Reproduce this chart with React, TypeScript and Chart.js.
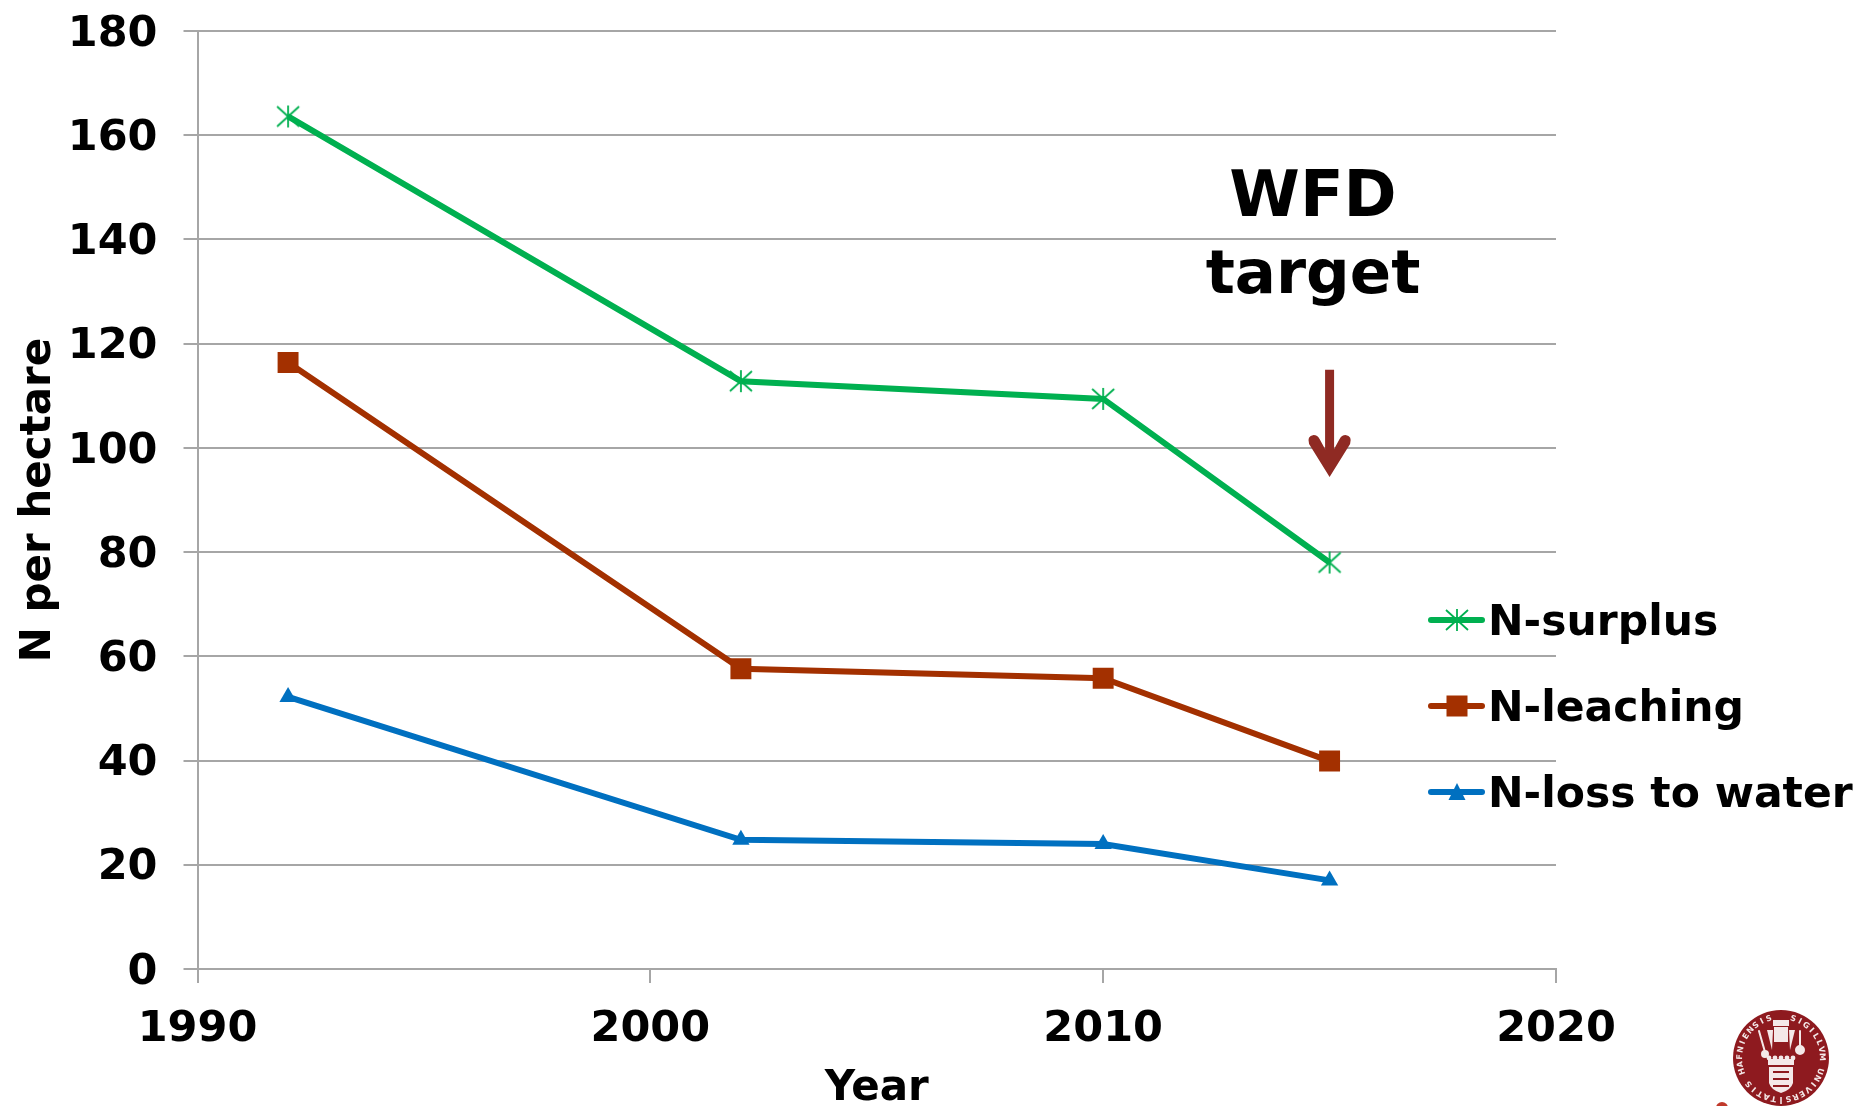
import React, { useEffect, useRef } from "react";
import { Chart, registerables } from "chart.js";

Chart.register(...registerables);

const years = [1992, 2002, 2010, 2015];
const nSurplus = [163.6, 112.8, 109.4, 78];
const nLeaching = [116.4, 57.6, 55.8, 39.9];
const nLoss = [52.2, 24.8, 24, 17];
const seriesLabels = ["N-surplus", "N-leaching", "N-loss to water"];
const seriesColors = ["#00B050", "#A33000", "#0070C0"];
const annotationYear = 2015;
const annotationLines = ["WFD", "target"];
const arrowFrom = 115;
const arrowTo = 94.4;
const sealText = "SIGILLVM UNIVERSITATIS HAFNIENSIS";

const FONT = '"DejaVu Sans"';
const GRID = "#A6A6A6";

function starMarker(color: string) {
  const c = document.createElement("canvas");
  c.width = 26;
  c.height = 26;
  const g = c.getContext("2d")!;
  g.strokeStyle = color;
  g.lineWidth = 1.8;
  g.beginPath();
  g.moveTo(13, 2);
  g.lineTo(13, 24);
  g.moveTo(2, 3);
  g.lineTo(24, 23);
  g.moveTo(24, 3);
  g.lineTo(2, 23);
  g.stroke();
  return c;
}

function drawSeal(ctx: CanvasRenderingContext2D, cx: number, cy: number) {
  const red = "#8E1A1F";
  const pale = "#F4E8E8";
  ctx.fillStyle = red;
  ctx.beginPath();
  ctx.arc(cx, cy, 48, 0, Math.PI * 2);
  ctx.fill();
  ctx.fillStyle = pale;
  ctx.font = `bold 8px ${FONT}`;
  ctx.textAlign = "center";
  ctx.textBaseline = "middle";
  const n = sealText.length;
  for (let i = 0; i < n; i++) {
    const a = -Math.PI / 2 + 0.3 + (i * (Math.PI * 2 - 0.6)) / (n - 1);
    ctx.save();
    ctx.translate(cx + Math.cos(a) * 41, cy + Math.sin(a) * 41);
    ctx.rotate(a + Math.PI / 2);
    ctx.fillText(sealText[i], 0, 0);
    ctx.restore();
  }
  ctx.fillStyle = pale;
  ctx.fillRect(cx - 8, cy - 38, 16, 6);
  ctx.fillRect(cx - 7, cy - 31, 14, 15);
  ctx.beginPath();
  ctx.moveTo(cx - 8, cy - 28);
  ctx.lineTo(cx - 14, cy - 28);
  ctx.lineTo(cx - 9, cy - 8);
  ctx.closePath();
  ctx.moveTo(cx + 8, cy - 28);
  ctx.lineTo(cx + 14, cy - 28);
  ctx.lineTo(cx + 9, cy - 8);
  ctx.closePath();
  ctx.fill();
  ctx.strokeStyle = pale;
  ctx.lineWidth = 2;
  ctx.beginPath();
  ctx.moveTo(cx - 22, cy - 27);
  ctx.lineTo(cx - 16, cy - 6);
  ctx.moveTo(cx + 19, cy - 27);
  ctx.lineTo(cx + 19, cy - 12);
  ctx.stroke();
  ctx.beginPath();
  ctx.arc(cx - 16, cy - 4, 4, 0, Math.PI * 2);
  ctx.arc(cx + 19, cy - 8, 5, 0, Math.PI * 2);
  ctx.fill();
  ctx.fillRect(cx - 13, cy + 1, 26, 6);
  [-12, -6, 0, 6, 12].forEach((dx) => {
    ctx.beginPath();
    ctx.arc(cx + dx, cy, 2.4, 0, Math.PI * 2);
    ctx.fill();
  });
  ctx.beginPath();
  ctx.moveTo(cx - 12, cy + 9);
  ctx.lineTo(cx + 12, cy + 9);
  ctx.lineTo(cx + 12, cy + 25);
  ctx.quadraticCurveTo(cx + 10, cy + 32, cx, cy + 35);
  ctx.quadraticCurveTo(cx - 10, cy + 32, cx - 12, cy + 25);
  ctx.closePath();
  ctx.fill();
  ctx.fillStyle = red;
  [13, 20, 27].forEach((dy) => ctx.fillRect(cx - 8, cy + dy, 16, 2));
}

const overlay = {
  id: "overlay",
  afterDatasetsDraw(chart: any) {
    const { ctx, scales } = chart;
    const x = scales.x;
    const y = scales.y;
    ctx.save();

    ctx.fillStyle = "#000";
    ctx.textAlign = "center";
    ctx.textBaseline = "alphabetic";
    ctx.font = `bold 64px ${FONT}`;
    ctx.fillText(annotationLines[0], 1313, 216);
    ctx.font = `bold 61px ${FONT}`;
    ctx.fillText(annotationLines[1], 1313, 293);

    const ax = x.getPixelForValue(annotationYear);
    const y0 = y.getPixelForValue(arrowFrom);
    const y1 = y.getPixelForValue(arrowTo);
    ctx.strokeStyle = "#8F2A23";
    ctx.fillStyle = "#8F2A23";
    ctx.lineWidth = 9;
    ctx.beginPath();
    ctx.moveTo(ax, y0);
    ctx.lineTo(ax, y1 - 16);
    ctx.stroke();
    ctx.beginPath();
    ctx.moveTo(ax, y1);
    ctx.lineTo(ax - 20.5, y1 - 33);
    ctx.quadraticCurveTo(ax - 23, y1 - 41, ax - 16, y1 - 42);
    ctx.quadraticCurveTo(ax - 12, y1 - 42, ax - 10, y1 - 38);
    ctx.lineTo(ax - 4, y1 - 27);
    ctx.lineTo(ax + 4, y1 - 27);
    ctx.lineTo(ax + 10, y1 - 38);
    ctx.quadraticCurveTo(ax + 12, y1 - 42, ax + 16, y1 - 42);
    ctx.quadraticCurveTo(ax + 23, y1 - 41, ax + 20.5, y1 - 33);
    ctx.closePath();
    ctx.fill();

    const legendY = [620, 706, 792];
    chart.data.datasets.forEach((ds: any, i: number) => {
      const ly = legendY[i];
      ctx.strokeStyle = ds.borderColor;
      ctx.fillStyle = ds.borderColor;
      ctx.lineWidth = 6;
      ctx.lineCap = "round";
      ctx.beginPath();
      ctx.moveTo(1431, ly);
      ctx.lineTo(1482, ly);
      ctx.stroke();
      const mx = 1457;
      if (i === 0) {
        ctx.drawImage(ds.pointStyle, mx - 13, ly - 13);
      } else if (i === 1) {
        ctx.fillRect(mx - 10.5, ly - 10.5, 21, 21);
      } else {
        ctx.beginPath();
        ctx.moveTo(mx, ly - 9);
        ctx.lineTo(mx + 8.5, ly + 8);
        ctx.lineTo(mx - 8.5, ly + 8);
        ctx.closePath();
        ctx.fill();
      }
      ctx.fillStyle = "#000";
      ctx.font = `bold 42.5px ${FONT}`;
      ctx.textAlign = "left";
      ctx.textBaseline = "alphabetic";
      ctx.fillText(ds.label, 1488, ly + 15);
    });

    drawSeal(ctx, 1781, 1058);

    ctx.fillStyle = "#C0392B";
    ctx.beginPath();
    ctx.arc(1722, 1108, 6, 0, Math.PI * 2);
    ctx.fill();
    ctx.restore();
  },
};

export default function App() {
  const ref = useRef<HTMLCanvasElement>(null);
  useEffect(() => {
    const toPoints = (vals: number[]) => vals.map((v, i) => ({ x: years[i], y: v }));
    const base = { borderWidth: 6, tension: 0, fill: false };
    const chart = new Chart(ref.current!, {
      type: "line",
      data: {
        datasets: [
          {
            ...base,
            label: seriesLabels[0],
            data: toPoints(nSurplus),
            borderColor: seriesColors[0],
            backgroundColor: seriesColors[0],
            pointStyle: starMarker(seriesColors[0]) as any,
          },
          {
            ...base,
            label: seriesLabels[1],
            data: toPoints(nLeaching),
            borderColor: seriesColors[1],
            backgroundColor: seriesColors[1],
            pointStyle: "rect",
            pointRadius: 14.8,
            pointBorderWidth: 0,
          },
          {
            ...base,
            label: seriesLabels[2],
            data: toPoints(nLoss),
            borderColor: seriesColors[2],
            backgroundColor: seriesColors[2],
            pointStyle: "triangle",
            pointRadius: 10,
            pointBorderWidth: 0,
          },
        ],
      },
      options: {
        responsive: false,
        animation: false,
        layout: { padding: { top: 31, right: 306, left: 0, bottom: 0 } },
        plugins: { legend: { display: false }, tooltip: { enabled: false } },
        scales: {
          x: {
            type: "linear",
            min: 1990,
            max: 2020,
            afterFit(s: any) {
              s.height = 137;
            },
            ticks: {
              stepSize: 10,
              padding: 21,
              color: "#000",
              maxRotation: 0,
              font: { family: FONT, weight: "bold", size: 43 },
              callback: (v: any) => String(v),
            },
            grid: { drawOnChartArea: false, drawTicks: true, tickLength: 14, color: GRID, lineWidth: 2 },
            border: { color: GRID, width: 2 },
            title: {
              display: true,
              text: "Year",
              color: "#000",
              font: { family: FONT, weight: "bold", size: 42 },
              padding: { top: 0, bottom: -8 },
            },
          },
          y: {
            min: 0,
            max: 180,
            afterFit(s: any) {
              s.width = 197.5;
              s.paddingTop = 0;
              s.paddingBottom = 0;
            },
            ticks: {
              stepSize: 20,
              padding: 26,
              labelOffset: 3.5,
              color: "#000",
              font: { family: FONT, weight: "bold", size: 43 },
            },
            grid: { color: GRID, lineWidth: 2, tickLength: 14 },
            border: { color: GRID, width: 2 },
            title: {
              display: true,
              text: "N per hectare",
              color: "#000",
              font: { family: FONT, weight: "bold", size: 42 },
              padding: { top: 14, bottom: 0 },
            },
          },
        },
      },
      plugins: [overlay],
    } as any);
    return () => chart.destroy();
  }, []);
  return (
    <canvas
      ref={ref}
      width={1862}
      height={1106}
      style={{ position: "absolute", left: 0, top: 0, display: "block", width: 1862, height: 1106 }}
    />
  );
}
